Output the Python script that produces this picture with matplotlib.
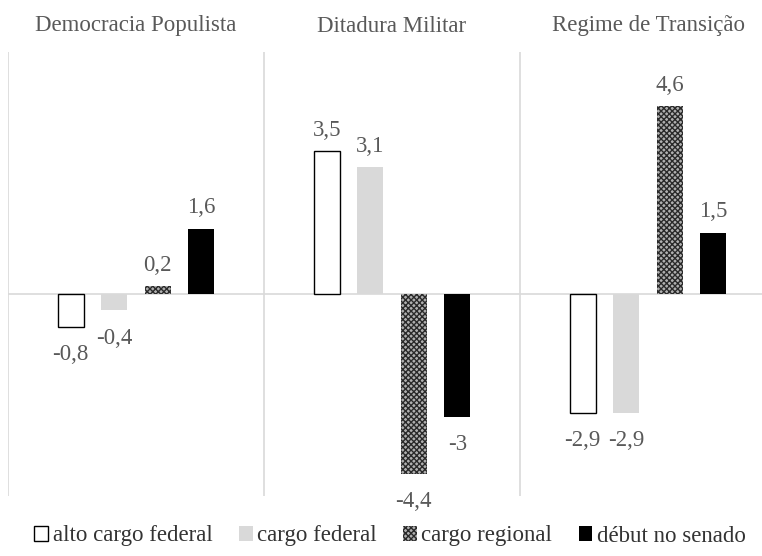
import numpy as np
import matplotlib.pyplot as plt

# Dados
regimes = ['Democracia Populista', 'Ditadura Militar', 'Regime de Transição']
series = ['alto cargo federal', 'cargo federal', 'cargo regional', 'début no senado']
alto_federal = [-0.8, 3.5, -2.9]
cargo_federal = [-0.4, 3.1, -2.9]
cargo_regional = [0.2, -4.4, 4.6]
debut_senado = [1.6, -3.0, 1.5]
valores = [alto_federal, cargo_federal, cargo_regional, debut_senado]

plt.rcParams['font.family'] = ['Liberation Serif', 'DejaVu Serif']
plt.rcParams['hatch.linewidth'] = 1.0
cinza = '#595959'
fs = 16.5

fig = plt.figure(figsize=(7.62, 5.56), dpi=100)
ax = fig.add_axes([8 / 762, 1 - 496 / 556, 768 / 762, 444 / 556])

estilos = [
    dict(facecolor='white', edgecolor='black', linewidth=1.0),
    dict(facecolor='#d9d9d9', edgecolor='none', linewidth=0),
    dict(facecolor='#b0b0b0', edgecolor='#2a2a2a', hatch='xxxxxx', linewidth=0),
    dict(facecolor='black', edgecolor='black', linewidth=0),
]

x = np.arange(len(regimes)) + 0.5
passo = 0.17
largura = 0.102
for i, (vals, est) in enumerate(zip(valores, estilos)):
    pos = x + (i - 1.5) * passo
    ax.bar(pos, vals, largura, label=series[i], **est)
    for xb, v in zip(pos, vals):
        txt = ('%g' % v).replace('.', ',')
        dy = 15 if v >= 0 else -20
        ax.annotate(txt, (xb, v), xytext=(0, dy), textcoords='offset points',
                    ha='center', va='center', color=cinza, fontsize=fs)

ax.set_xlim(0, 3)
ax.set_ylim(-4.94, 5.92)
ax.axhline(0, color='#d9d9d9', lw=1.2, zorder=0)
for xs in [0, 1, 2]:
    ax.axvline(xs, color='#d9d9d9', lw=1.2, zorder=0)
for s in ax.spines.values():
    s.set_visible(False)
ax.set_xticks([])
ax.set_yticks([])

for xc, nome in zip(x, regimes):
    fig.text((8 + xc * 256) / 762, 1 - 26 / 556, nome, ha='center', va='center',
             color=cinza, fontsize=fs)

fig.legend(loc='center', bbox_to_anchor=(0.512, 1 - 536 / 556), ncol=4, frameon=False,
           fontsize=fs, labelcolor='#333333', handlelength=0.6, handleheight=0.6,
           handletextpad=0.2, columnspacing=1.15)

fig.savefig('out.png', dpi=100)
